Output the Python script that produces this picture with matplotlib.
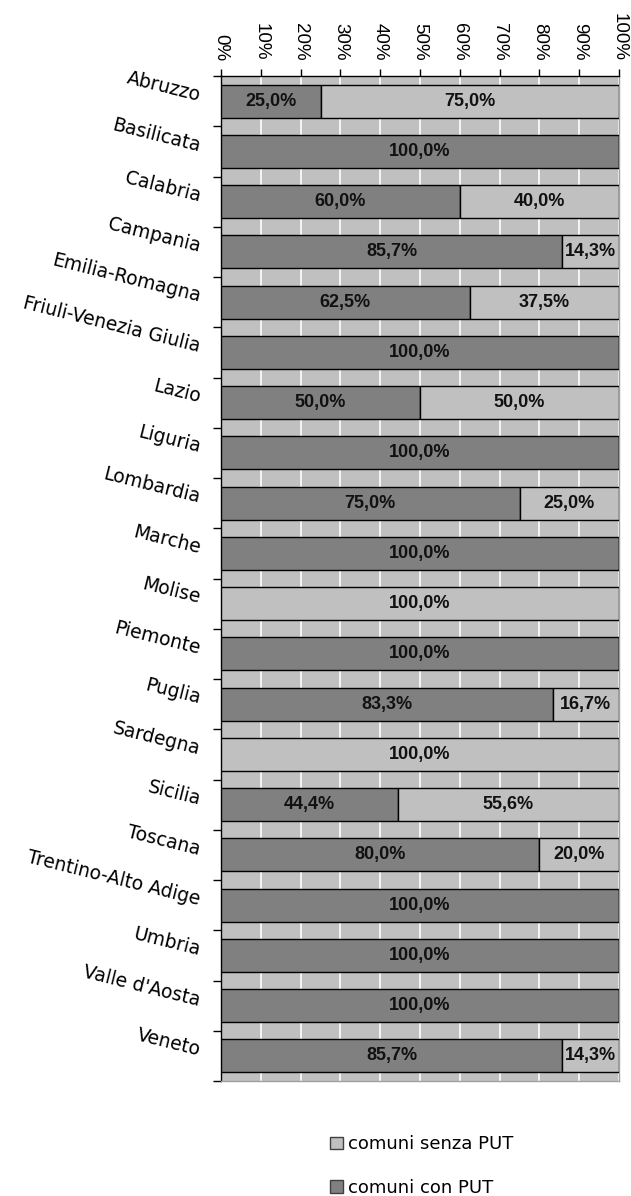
import matplotlib
matplotlib.use("Agg")
import matplotlib.pyplot as plt
from matplotlib.patches import Patch
import numpy as np

regions = ["Abruzzo", "Basilicata", "Calabria", "Campania", "Emilia-Romagna",
           "Friuli-Venezia Giulia", "Lazio", "Liguria", "Lombardia", "Marche",
           "Molise", "Piemonte", "Puglia", "Sardegna", "Sicilia", "Toscana",
           "Trentino-Alto Adige", "Umbria", "Valle d'Aosta", "Veneto"]
con_put = [25.0, 100.0, 60.0, 85.7, 62.5, 100.0, 50.0, 100.0, 75.0, 100.0,
           0.0, 100.0, 83.3, 0.0, 44.4, 80.0, 100.0, 100.0, 100.0, 85.7]
senza_put = [75.0, 0.0, 40.0, 14.3, 37.5, 0.0, 50.0, 0.0, 25.0, 0.0,
             100.0, 0.0, 16.7, 100.0, 55.6, 20.0, 0.0, 0.0, 0.0, 14.3]
xticks = [0, 10, 20, 30, 40, 50, 60, 70, 80, 90, 100]

dark = "#808080"
light = "#c0c0c0"

valfont = dict(family=["Liberation Sans", "DejaVu Sans"], weight="bold", size=13, color="#111111")

fig = plt.figure(figsize=(6.31, 11.96), dpi=100)
ax = fig.add_axes([221/631, 1 - 1081/1196, 398/631, (1081 - 76)/1196])
ax.set_facecolor(light)

y = np.arange(len(regions))
h = 0.66
ax.barh(y, con_put, height=h, color=dark, edgecolor="black", linewidth=1.0, zorder=3)
ax.barh(y, senza_put, left=con_put, height=h, color=light, edgecolor="black", linewidth=1.0, zorder=3)

for i in range(len(regions)):
    if con_put[i] > 0:
        ax.text(con_put[i] / 2, y[i], f"{con_put[i]:.1f}%".replace(".", ","),
                ha="center", va="center", zorder=5, **valfont)
    if senza_put[i] > 0:
        ax.text(con_put[i] + senza_put[i] / 2, y[i], f"{senza_put[i]:.1f}%".replace(".", ","),
                ha="center", va="center", zorder=5, clip_on=False, **valfont)

ax.set_xlim(0, 100)
ax.set_ylim(len(regions) - 0.5, -0.5)

# x axis on top
ax.xaxis.tick_top()
ax.set_xticks(xticks)
ax.set_xticklabels([f"{v}%" for v in xticks], rotation=-90,
                   family=["Liberation Sans", "DejaVu Sans"], fontsize=13.5)
ax.tick_params(axis="x", which="major", direction="out", length=5, width=1, pad=6, color="black")
ax.grid(axis="x", color="white", linewidth=1.2, zorder=1)
ax.set_axisbelow(True)

# y axis
ax.set_yticks(y)
ax.set_yticklabels(regions, rotation=-14, ha="right", va="baseline",
                   family="DejaVu Sans", fontsize=13.5, rotation_mode="anchor")
ax.tick_params(axis="y", which="major", length=0, pad=16)
ax.set_yticks(np.arange(-0.5, len(regions), 1.0), minor=True)
ax.tick_params(axis="y", which="minor", direction="out", length=6, width=1, color="black")

for s in ["left", "top"]:
    ax.spines[s].set_color("black")
    ax.spines[s].set_linewidth(1.0)
for s in ["right", "bottom"]:
    ax.spines[s].set_color("#a0a0a0")
    ax.spines[s].set_linewidth(1.0)

handles = [Patch(facecolor=light, edgecolor="#404040", linewidth=1.0),
           Patch(facecolor=dark, edgecolor="#404040", linewidth=1.0)]
fig.legend(handles, ["comuni senza PUT", "comuni con PUT"],
           loc="upper left", bbox_to_anchor=(314/631, 1 - 1119/1196),
           frameon=False, handlelength=0.7, handleheight=0.7, handletextpad=0.3,
           labelspacing=1.4, prop=dict(family="DejaVu Sans", size=13))

fig.savefig("out.png", dpi=100, facecolor="white")
